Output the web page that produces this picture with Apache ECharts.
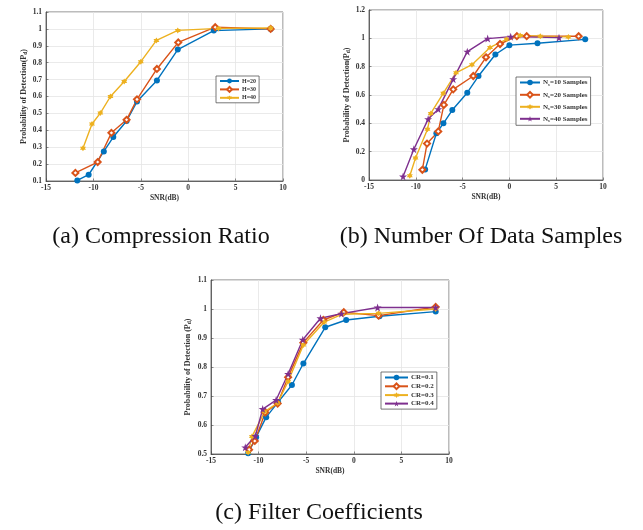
<!DOCTYPE html>
<html><head><meta charset="utf-8">
<script src="https://cdn.jsdelivr.net/npm/echarts@6/dist/echarts.min.js"></script>
<style>html,body{margin:0;padding:0;background:#fff}#c{width:643px;height:530px}</style>
</head><body><div id="c"></div>
<script>
// ---- data (a) Compression Ratio ----
const namesA = ['H=20', 'H=30', 'H=40'];
const a1x = [-11.7, -10.5, -8.9, -7.9, -6.5, -5.4, -3.3, -1.1, 2.7, 8.7];
const a1y = [0.103, 0.137, 0.275, 0.36, 0.455, 0.57, 0.695, 0.878, 0.99, 1.0];
const a2x = [-11.9, -9.55, -8.1, -6.5, -5.4, -3.3, -1.05, 2.85, 8.7];
const a2y = [0.148, 0.212, 0.385, 0.462, 0.583, 0.763, 0.92, 1.01, 1.0];
const a3x = [-11.1, -10.15, -9.27, -8.2, -6.75, -5.0, -3.35, -1.1, 3.2, 8.7];
const a3y = [0.294, 0.437, 0.502, 0.6, 0.689, 0.806, 0.932, 0.991, 1.003, 1.005];
// ---- data (b) Number of data samples ----
const namesB = ['N{s|s}=10 Samples', 'N{s|s}=20 Samples', 'N{s|s}=30 Samples', 'N{s|s}=40 Samples'];
const b1x = [-9.0, -7.8, -7.05, -6.1, -4.5, -3.3, -1.5, 0.0, 3.0, 8.1];
const b1y = [0.075, 0.33, 0.4, 0.494, 0.616, 0.734, 0.886, 0.952, 0.965, 0.993];
const b2x = [-9.3, -8.8, -7.6, -7.0, -6.0, -3.86, -2.5, -1.0, 0.8, 1.85, 7.4];
const b2y = [0.072, 0.257, 0.343, 0.53, 0.64, 0.734, 0.866, 0.96, 1.015, 1.015, 1.015];
const b3x = [-10.64, -10.03, -8.75, -8.4, -7.07, -5.7, -4.0, -2.07, -0.3, 1.15, 3.3, 6.3];
const b3y = [0.03, 0.155, 0.358, 0.47, 0.612, 0.757, 0.814, 0.936, 0.993, 1.02, 1.015, 1.01];
const b4x = [-11.36, -10.21, -8.68, -7.6, -6.0, -4.5, -2.32, 0.14, 5.3];
const b4y = [0.025, 0.217, 0.43, 0.5, 0.712, 0.906, 0.998, 1.012, 1.005];
// ---- data (c) Filter coefficients ----
const namesC = ['CR=0.1', 'CR=0.2', 'CR=0.3', 'CR=0.4'];
const c1x = [-11.1, -10.26, -9.2, -7.95, -6.5, -5.3, -3.0, -0.8, 2.7, 8.6];
const c1y = [0.503, 0.558, 0.627, 0.679, 0.738, 0.812, 0.937, 0.962, 0.975, 0.991];
const c2x = [-11.0, -10.4, -9.3, -8.0, -6.9, -5.3, -3.2, -1.05, 2.6, 8.6];
const c2y = [0.515, 0.545, 0.643, 0.674, 0.765, 0.884, 0.962, 0.989, 0.977, 1.007];
const c3x = [-11.1, -10.7, -9.36, -8.0, -6.9, -5.3, -3.1, -1.2, 2.6, 8.6];
const c3y = [0.505, 0.56, 0.646, 0.676, 0.75, 0.876, 0.955, 0.982, 0.985, 1.0];
const c4x = [-11.4, -10.34, -9.57, -8.16, -6.9, -5.36, -3.5, -1.3, 2.5, 8.6];
const c4y = [0.523, 0.562, 0.655, 0.686, 0.776, 0.894, 0.968, 0.984, 1.005, 1.005];
const captions = ['(a) Compression Ratio', '(b) Number Of Data Samples', '(c) Filter Coefficients'];

const COLORS = ['#0072BD', '#D95319', '#EDB120', '#7E2F8E'];
const FONT = '"Liberation Serif", "Times New Roman", serif';
const STAR5 = 'path://M0,-1 L0.2245,-0.309 L0.951,-0.309 L0.363,0.118 L0.588,0.809 L0,0.382 L-0.588,0.809 L-0.363,0.118 L-0.951,-0.309 L-0.2245,-0.309 Z';
const STAR6 = 'path://M0,-1 L0.289,-0.5 L0.866,-0.5 L0.577,0 L0.866,0.5 L0.289,0.5 L0,1 L-0.289,0.5 L-0.866,0.5 L-0.577,0 L-0.866,-0.5 L-0.289,-0.5 Z';
const SYMS = ['circle', 'emptyDiamond', STAR6, STAR5];

const zip = (xs, ys) => xs.map((x, i) => [x, ys[i]]);
const fmt = v => String(Math.round(v * 10) / 10);

const grids = [
  {left: 46, top: 12, width: 237, height: 169},
  {left: 369, top: 10, width: 234, height: 170},
  {left: 211, top: 280, width: 238, height: 174}
];
const yr = [[0.1, 1.1, 0.1], [0, 1.2, 0.2], [0.5, 1.1, 0.1]];
const ynames = ['Probability of Detection(P{s|d})', 'Probability of Detection(P{s|d})', 'Probability of Detection (P{s|d})'];

const xAxis = grids.map((g, i) => ({
  type: 'value', gridIndex: i, min: -15, max: 10, interval: 5,
  name: 'SNR(dB)', nameLocation: 'middle', nameGap: 13,
  nameTextStyle: {fontFamily: FONT, fontWeight: 'bold', fontSize: 7.5, color: '#333'},
  axisLine: {show: true, onZero: false, lineStyle: {color: '#444', width: 0.8}},
  axisTick: {show: true, inside: true, length: 2.5, lineStyle: {color: '#444', width: 0.6}},
  axisLabel: {fontFamily: FONT, fontWeight: 'bold', fontSize: 7.5, color: '#333', margin: 3},
  splitLine: {show: true, lineStyle: {color: '#e4e4e4', width: 0.8}}
}));
const yAxis = grids.map((g, i) => ({
  type: 'value', gridIndex: i, min: yr[i][0], max: yr[i][1], interval: yr[i][2],
  name: ynames[i], nameLocation: 'middle', nameRotate: 90, nameGap: i === 2 ? 18 : 16,
  nameTextStyle: {fontFamily: FONT, fontWeight: 'bold', fontSize: 8, color: '#333',
    rich: {s: {fontFamily: FONT, fontWeight: 'bold', fontSize: 5.5, color: '#333', padding: [4, 0, 0, 0]}}},
  axisLine: {show: true, onZero: false, lineStyle: {color: '#444', width: 0.8}},
  axisTick: {show: true, inside: true, length: 2.5, lineStyle: {color: '#444', width: 0.6}},
  axisLabel: {fontFamily: FONT, fontWeight: 'bold', fontSize: 7.5, color: '#333', margin: 4, formatter: fmt},
  splitLine: {show: true, lineStyle: {color: '#e4e4e4', width: 0.8}}
}));

function mk(name, xs, ys, k, gi) {
  return {
    type: 'line', name: name, xAxisIndex: gi, yAxisIndex: gi, data: zip(xs, ys),
    color: COLORS[k], symbol: SYMS[k], symbolSize: k === 3 ? 8 : 6,
    showAllSymbol: true, animation: false,
    lineStyle: {width: 1.4, color: COLORS[k]},
    itemStyle: {color: COLORS[k], borderColor: COLORS[k], borderWidth: k === 1 ? 1.4 : 0}
  };
}
const series = [
  mk(namesA[0], a1x, a1y, 0, 0), mk(namesA[1], a2x, a2y, 1, 0), mk(namesA[2], a3x, a3y, 2, 0),
  mk(namesB[0], b1x, b1y, 0, 1), mk(namesB[1], b2x, b2y, 1, 1), mk(namesB[2], b3x, b3y, 2, 1), mk(namesB[3], b4x, b4y, 3, 1),
  mk(namesC[0], c1x, c1y, 0, 2), mk(namesC[1], c2x, c2y, 1, 2), mk(namesC[2], c3x, c3y, 2, 2), mk(namesC[3], c4x, c4y, 3, 2)
];

function legend(data, left, top, fs, gap, iw) {
  return {
    data: data, left: left, top: top, orient: 'vertical',
    itemWidth: iw, itemHeight: fs, itemGap: gap, padding: [2, 3, 2, 3],
    backgroundColor: '#fff', borderColor: '#555', borderWidth: 0.8,
    textStyle: {fontFamily: FONT, fontWeight: 'bold', fontSize: fs, color: '#333', padding: [0, 0, 0, -2],
      rich: {s: {fontFamily: FONT, fontWeight: 'bold', fontSize: fs * 0.7, color: '#333', padding: [4, 0, 0, 0]}}},
    formatter: n => n, selectedMode: false
  };
}

const chart = echarts.init(document.getElementById('c'), null, {renderer: 'canvas'});
chart.setOption({
  animation: false,
  backgroundColor: '#fff',
  grid: grids.map(g => Object.assign({show: true, borderColor: '#555', borderWidth: 0.8, backgroundColor: 'transparent'}, g)),
  xAxis: xAxis, yAxis: yAxis, series: series,
  legend: [
    legend(namesA, 216, 76, 6, 2, 19),
    legend(namesB, 516, 77, 7, 4, 20),
    legend(namesC, 381, 372, 7, 1.5, 23)
  ],
  graphic: [
    {type: 'text', x: 161, y: 237, style: {text: captions[0], font: '24px ' + FONT, fill: '#111', align: 'center', verticalAlign: 'middle'}},
    {type: 'text', x: 481, y: 237, style: {text: captions[1], font: '24px ' + FONT, fill: '#111', align: 'center', verticalAlign: 'middle'}},
    {type: 'text', x: 319, y: 513, style: {text: captions[2], font: '24px ' + FONT, fill: '#111', align: 'center', verticalAlign: 'middle'}}
  ]
});
</script></body></html>
